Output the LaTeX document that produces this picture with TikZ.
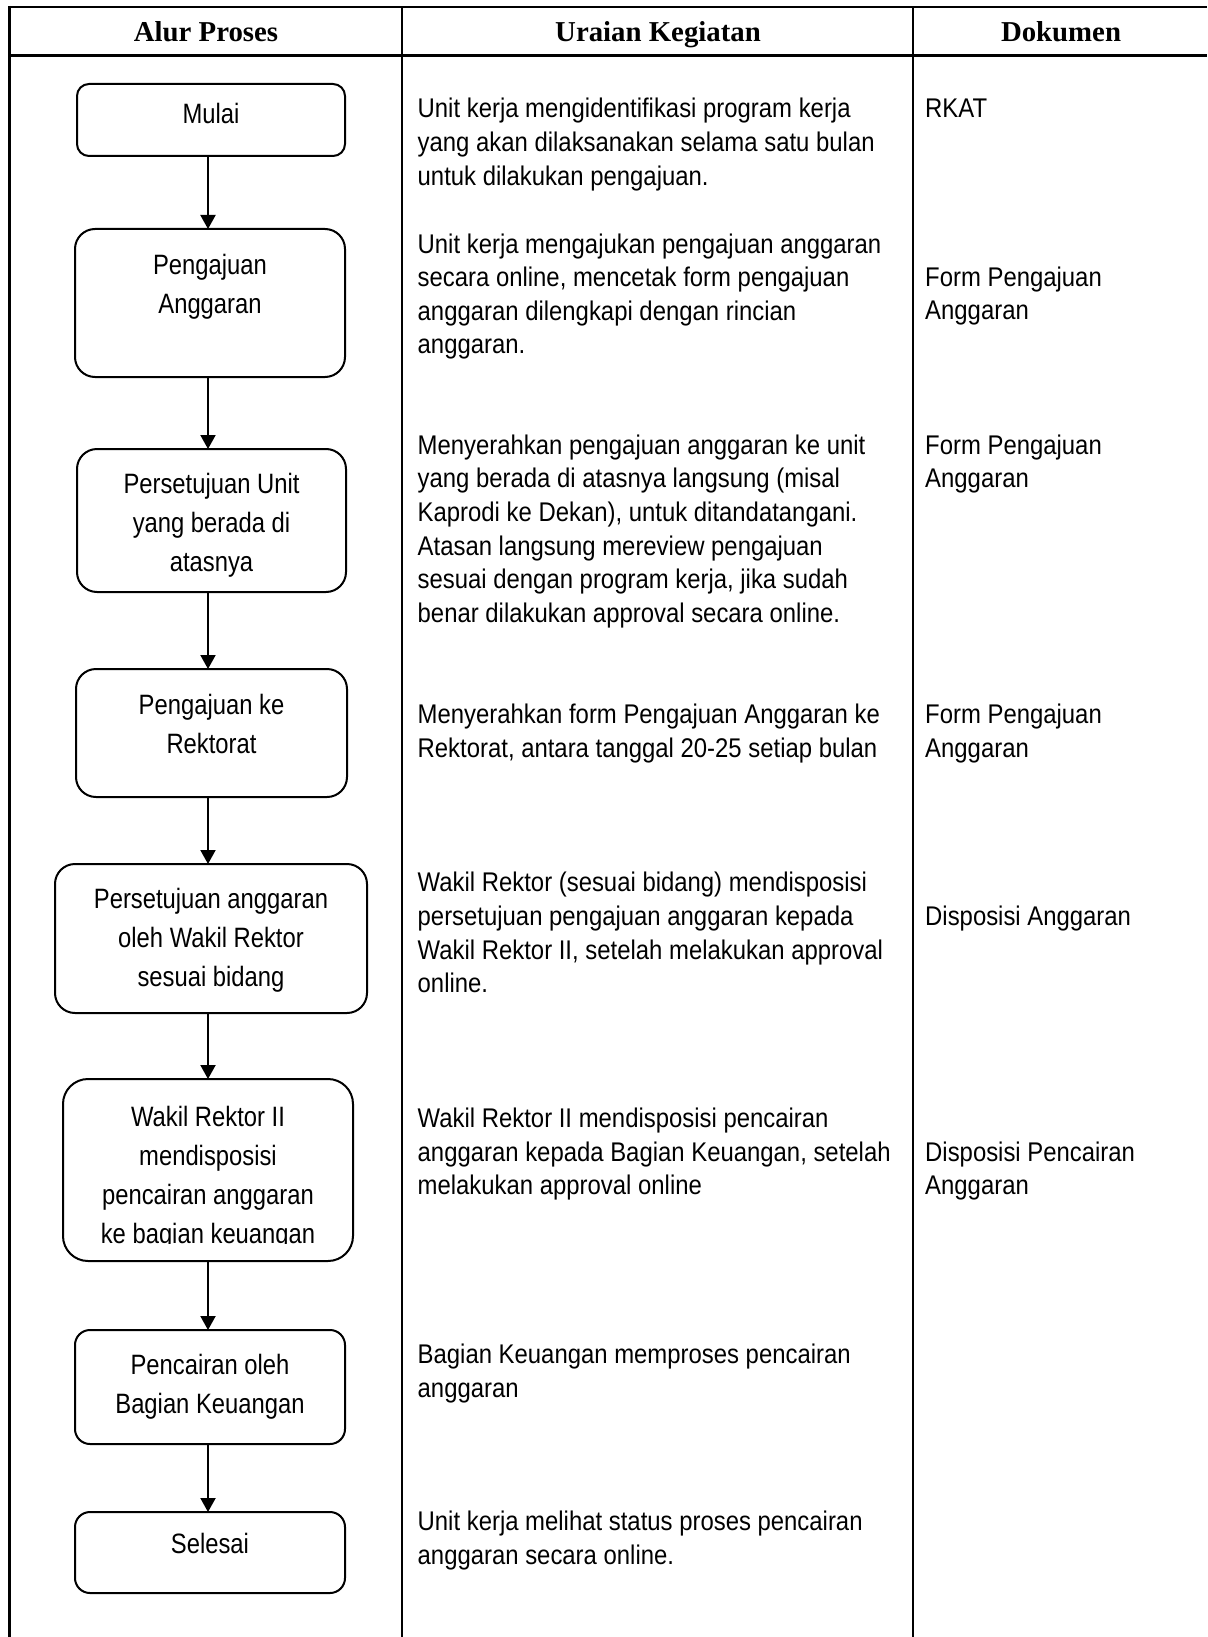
\documentclass[tikz,border=0pt]{standalone}
\usepackage{fontspec}
\setmainfont{Liberation Sans}
\newfontfamily\descfont{Liberation Sans}[FakeStretch=0.885]
\newfontfamily\boxfont{Liberation Sans}[FakeStretch=0.85]
\newfontfamily\hdfont{Liberation Serif}
\usetikzlibrary{arrows.meta}
\begin{document}
\begin{tikzpicture}[x=1pt,y=-1pt,
  tbl/.style={line width=2.5pt},
  box/.style={draw, line width=2pt, rectangle, inner sep=0pt, outer sep=0pt},
  boxtxt/.style={font={\boxfont\fontsize{28}{39}\selectfont}, align=center, anchor=base, inner sep=0pt},
  desc/.style={font={\descfont\fontsize{27}{33.6}\selectfont}, align=left, anchor=base west, inner sep=0pt},
  hdr/.style={font={\hdfont\bfseries\fontsize{28.8}{32}\selectfont}, anchor=base, inner sep=0pt},
  arr/.style={line width=2pt, -{Triangle[length=14pt,width=15pt]}}]
\useasboundingbox (0,0) rectangle (1207,1637);

% table grid
\coordinate (tl) at (9.7,7.2);
\coordinate (tr) at (1207,7.2);
\coordinate (hl) at (9.7,55.5);
\coordinate (hr) at (1207,55.5);
\coordinate (bl) at (9.7,1637);
\coordinate (c1t) at (402,7.2);
\coordinate (c1b) at (402,1637);
\coordinate (c2t) at (913,7.2);
\coordinate (c2b) at (913,1637);
\draw[tbl] (tl) -- (tr);
\draw[tbl] (hl) -- (hr);
\draw[tbl] ([yshift=1.25pt]tl) -- (bl);
\draw[tbl] (c1t) -- (c1b);
\draw[tbl] (c2t) -- (c2b);

% headers
\node[hdr] (h1) at (206,41.5) {Alur Proses};
\node[hdr] (h2) at (658,41.5) {Uraian Kegiatan};
\node[hdr] (h3) at (1061,41.5) {Dokumen};

% boxes
\node[box, rounded corners=12pt, minimum width=268pt, minimum height=72pt] (b1) at (211,120) {};
\node[box, rounded corners=20pt, minimum width=270pt, minimum height=148pt] (b2) at (210,303) {};
\node[box, rounded corners=20pt, minimum width=269pt, minimum height=143pt] (b3) at (211.5,520.5) {};
\node[box, rounded corners=20pt, minimum width=271pt, minimum height=128pt] (b4) at (211.5,733) {};
\node[box, rounded corners=20pt, minimum width=312pt, minimum height=149pt] (b5) at (211,938.5) {};
\node[box, rounded corners=25pt, minimum width=290pt, minimum height=182pt] (b6) at (208,1170) {};
\node[box, rounded corners=15pt, minimum width=270pt, minimum height=114pt] (b7) at (210,1387) {};
\node[box, rounded corners=15pt, minimum width=270pt, minimum height=81pt] (b8) at (210,1552.5) {};

% box texts (anchor base = baseline of the last line)
\node[boxtxt] (t1) at (211,124) {Mulai};
\node[boxtxt] (t2) at (210,313) {Pengajuan\\Anggaran};
\node[boxtxt] (t3) at (211.5,571) {Persetujuan Unit\\yang berada di\\atasnya};
\node[boxtxt] (t4) at (211.5,753) {Pengajuan ke\\Rektorat};
\node[boxtxt] (t5) at (211,986) {Persetujuan anggaran\\oleh Wakil Rektor\\sesuai bidang};
\begin{scope}
\clip (60,1082) rectangle (360,1243);
\node[boxtxt] (t6) at (208,1243) {Wakil Rektor II\\mendisposisi\\pencairan anggaran\\ke bagian keuangan};
\end{scope}
\node[boxtxt] (t7) at (210,1413) {Pencairan oleh\\Bagian Keuangan};
\node[boxtxt] (t8) at (210,1553) {Selesai};

% arrows
\coordinate (ax) at (208,0);
\draw[arr] (b1.south -| ax) -- (b2.north -| ax);
\draw[arr] (b2.south -| ax) -- (b3.north -| ax);
\draw[arr] (b3.south -| ax) -- (b4.north -| ax);
\draw[arr] (b4.south -| ax) -- (b5.north -| ax);
\draw[arr] (b5.south -| ax) -- (b6.north -| ax);
\draw[arr] (b6.south -| ax) -- (b7.north -| ax);
\draw[arr] (b7.south -| ax) -- (b8.north -| ax);

% descriptions
\node[desc] (d1) at (417.5,185.2) {Unit kerja mengidentifikasi program kerja\\yang akan dilaksanakan selama satu bulan\\untuk dilakukan pengajuan.};
\node[desc] (d2) at (417.5,353.8) {Unit kerja mengajukan pengajuan anggaran\\secara online, mencetak form pengajuan\\anggaran dilengkapi dengan rincian\\anggaran.};
\node[desc] (d3) at (417.5,622.3) {Menyerahkan pengajuan anggaran ke unit\\yang berada di atasnya langsung (misal\\Kaprodi ke Dekan), untuk ditandatangani.\\Atasan langsung mereview pengajuan\\sesuai dengan program kerja, jika sudah\\benar dilakukan approval secara online.};
\node[desc] (d4) at (417.5,757.3) {Menyerahkan form Pengajuan Anggaran ke\\Rektorat, antara tanggal 20-25 setiap bulan};
\node[desc] (d5) at (417.5,992.6) {Wakil Rektor (sesuai bidang) mendisposisi\\persetujuan pengajuan anggaran kepada\\Wakil Rektor II, setelah melakukan approval\\online.};
\node[desc] (d6) at (417.5,1194.9) {Wakil Rektor II mendisposisi pencairan\\anggaran kepada Bagian Keuangan, setelah\\melakukan approval online};
\node[desc] (d7) at (417.5,1397.3) {Bagian Keuangan memproses pencairan\\anggaran};
\node[desc] (d8) at (417.5,1564.4) {Unit kerja melihat status proses pencairan\\anggaran secara online.};

% documents
\node[desc] (k1) at (925,118) {RKAT};
\node[desc] (k2) at (925,319.6) {Form Pengajuan\\Anggaran};
\node[desc] (k3) at (925,487.9) {Form Pengajuan\\Anggaran};
\node[desc] (k4) at (925,757.3) {Form Pengajuan\\Anggaran};
\node[desc] (k5) at (925,925) {Disposisi Anggaran};
\node[desc] (k6) at (925,1194.6) {Disposisi Pencairan\\Anggaran};
\end{tikzpicture}
\end{document}
